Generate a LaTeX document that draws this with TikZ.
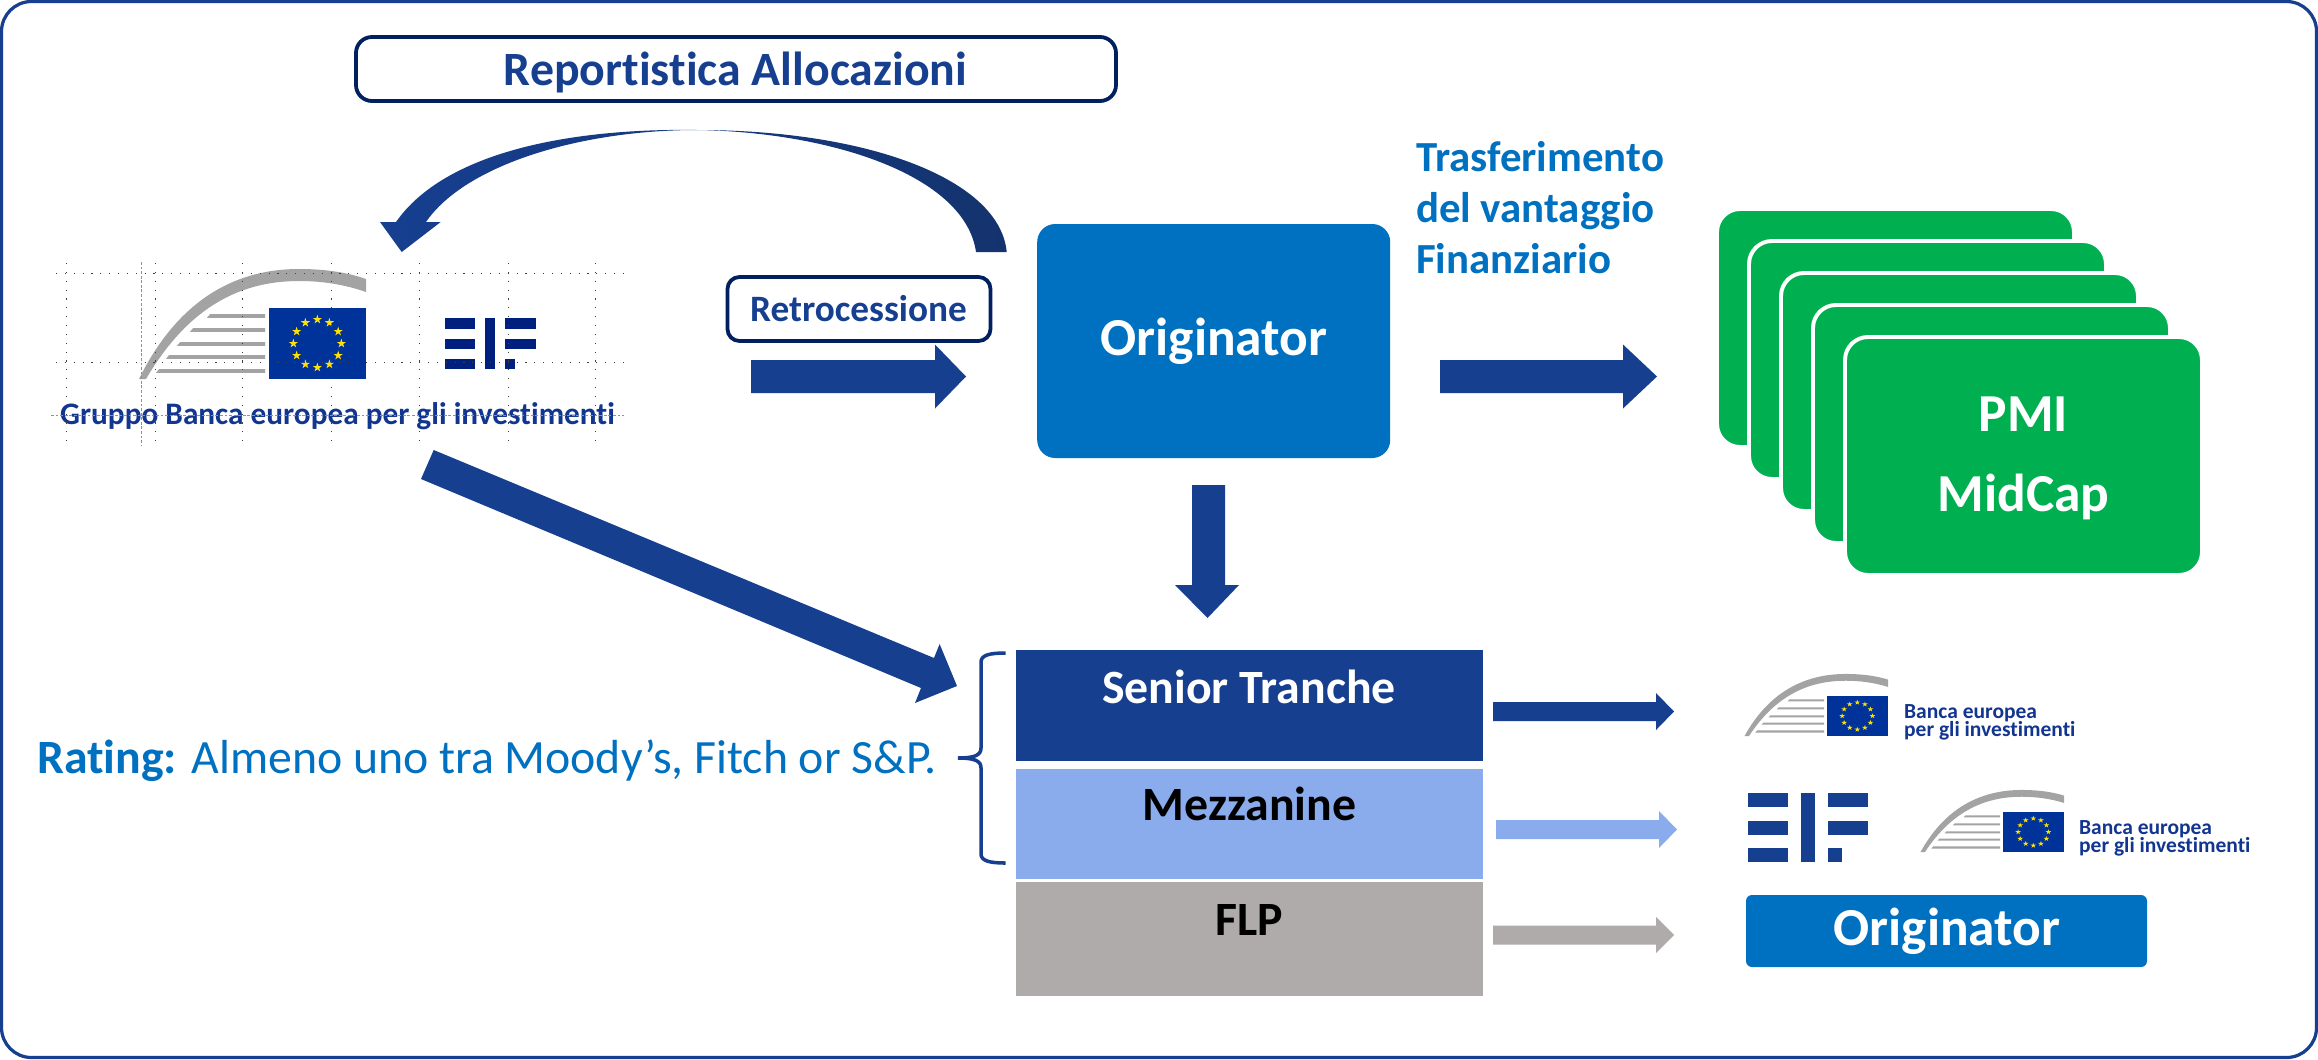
\documentclass[tikz,border=0pt]{standalone}
\usepackage{fontspec}
\setmainfont{Carlito}[Ligatures=CommonOff]
\definecolor{bluemain}{HTML}{163F90}
\definecolor{bluedark}{HTML}{14336E}
\definecolor{navy}{HTML}{002060}
\definecolor{origblue}{HTML}{0070C0}
\definecolor{cardgreen}{HTML}{00B050}
\definecolor{mezzblue}{HTML}{8BACEC}
\definecolor{flpgray}{HTML}{AEABAA}
\definecolor{flagblue}{HTML}{003399}
\definecolor{stargold}{HTML}{FFE000}
\definecolor{swoosh}{HTML}{A3A3A3}
\definecolor{eifnavy}{HTML}{002080}
\definecolor{eiftext}{HTML}{12358F}
\definecolor{guide}{HTML}{FF6A3C}
\def\u{0.05cm}
\newcommand{\fs}[1]{\fontsize{#1}{#1}\selectfont}
\newcommand{\eustar}[3]{%
  \pgfmathsetmacro{\rin}{0.382*#3}%
  \fill[stargold,shift={(#1,#2)}] (-90:#3) -- (-54:\rin) -- (-18:#3) -- (18:\rin) -- (54:#3) -- (90:\rin) -- (126:#3) -- (162:\rin) -- (198:#3) -- (234:\rin) -- cycle;}
% EIB emblem: origin at the lower right corner of the flag
\newcommand{\eiblogo}[4]{%
  \begin{scope}[shift={(#1,#2)},xscale=#3,yscale=#4]
    \fill[swoosh] (-227,0) .. controls (-190,-75) and (-135,-110) .. (-67,-110)
      .. controls (-42,-110) and (-20,-107) .. (0,-100) -- (0,-87)
      .. controls (-20,-94) and (-42,-98) .. (-67,-98)
      .. controls (-130,-98) and (-180,-68) .. (-220,0) -- cycle;
    \foreach \lx/\ly in {-156/-63,-173/-49,-186/-35,-197/-22,-207/-8}
      \fill[swoosh] (\lx,\ly-1.8) -- (-101,\ly-1.8) -- (-101,\ly+1.8) -- (\lx-3,\ly+1.8) -- cycle;
    \fill[flagblue] (-97,-71) rectangle (0,0);
    \foreach \a in {0,30,...,330}{
      \pgfmathsetmacro{\sx}{-48.6+24*cos(\a)}
      \pgfmathsetmacro{\sy}{-35.5+24*sin(\a)}
      \eustar{\sx}{\sy}{4.8}
    }
  \end{scope}}
% block arrow pointing right
\newcommand{\rarrow}[7]{% colour, x0, xneck, xtip, yc, half shaft, half head
  \fill[#1] (#2,#5-#6) -- (#3,#5-#6) -- (#3,#5-#7) -- (#4,#5) -- (#3,#5+#7) -- (#3,#5+#6) -- (#2,#5+#6) -- cycle;}
\tikzset{
  frame/.style={draw=bluemain,line width=4.6pt,rounded corners=1.5cm},
  outlinebox/.style={draw=navy,line width=5.4pt,fill=white,rounded corners=#1},
  origbox/.style={fill=origblue,rounded corners=#1,inner sep=0pt},
  cardbox/.style={fill=cardgreen,draw=white,line width=5.6pt,rounded corners=1.15cm,
     minimum width=357*\u,minimum height=238*\u,inner sep=0pt},
  tranche/.style={inner sep=0pt,minimum width=467*\u},
  lbl/.style={inner sep=0pt,anchor=base},
  lblw/.style={inner sep=0pt,anchor=base west},
  dots/.style={draw=black!75,line width=1.3pt,dash pattern=on 1.6pt off 11pt},
  redline/.style={draw=guide,line width=0.9pt,dash pattern=on 4pt off 2.5pt},
}
\begin{document}
\begin{tikzpicture}[x=\u,y=-\u]
\useasboundingbox (0,0) rectangle (2318,1059);
\fill[white] (0,0) rectangle (2318,1059);
\draw[frame] (1.5,1.5) rectangle (2316.5,1057.5);

% top labelled box
\node[outlinebox=0.8cm,minimum width=760*\u,minimum height=64*\u,inner sep=0pt] (report) at (736,69) {};
\node[lbl,text=bluemain] (reporttext) at (735.5,85) {\fs{68}\textbf{Reportistica Allocazioni}};

% curved arrow
\shade[left color=bluemain,middle color=bluemain,right color=bluedark]
  (1006.7,252) .. controls (1000,180) and (870,130) .. (697,130)
  .. controls (570,128) and (445,152) .. (396,222) -- (380,222) -- (401.7,252) -- (440.7,222) -- (426,222)
  .. controls (465,165) and (580,130) .. (697,130)
  .. controls (830,132) and (965,175) .. (976,252) -- cycle;

% Retrocessione
\node[outlinebox=0.6cm,minimum width=263*\u,minimum height=64*\u,inner sep=0pt] (retro) at (859,309) {};
\node[lbl,text=bluemain] (retrotext) at (858.5,321) {\fs{53}\textbf{Retrocessione}};
\rarrow{bluemain}{751}{935}{966}{376.5}{16.5}{32}

% Originator
\node[origbox=0.9cm,minimum width=353*\u,minimum height=234*\u] (orig) at (1213.7,341) {};
\node[lbl,text=white] (origtext) at (1214,355) {\fs{76}\textbf{Originator}};

% Trasferimento
\node[lblw,text=origblue] (tr1) at (1416,171) {\fs{61}\textbf{Trasferimento}};
\node[lblw,text=origblue] (tr2) at (1416,222) {\fs{61}\textbf{del vantaggio}};
\node[lblw,text=origblue] (tr3) at (1416,273) {\fs{61}\textbf{Finanziario}};
\rarrow{bluemain}{1440}{1623}{1657}{376.5}{16.5}{32}

% cards
\node[cardbox] (card1) at (1895.5,328) {};
\node[cardbox] (card2) at (1927.5,360) {};
\node[cardbox] (card3) at (1959.5,392) {};
\node[cardbox] (card4) at (1991.5,424) {};
\node[cardbox] (card5) at (2023.5,456) {};
\node[lbl,text=white] (pmi) at (2023.5,431) {\fs{76}\textbf{PMI}};
\node[lbl,text=white] (midcap) at (2023.5,511) {\fs{76}\textbf{MidCap}};

% down arrow
\fill[bluemain] (1192,485) -- (1225,485) -- (1225,585) -- (1239,585) -- (1207.5,618) -- (1175,585) -- (1192,585) -- cycle;

% diagonal arrow
\fill[bluemain] (433.7,450) -- (934,658) -- (939.6,644) -- (957,686) -- (915,703) -- (921,688) -- (421,479) -- cycle;

% tranches
\node[tranche,fill=bluemain,minimum height=111*\u] (senior) at (1249.5,705.5) {};
\node[tranche,fill=mezzblue,minimum height=110*\u] (mezz) at (1249.5,824) {};
\node[tranche,fill=flpgray,minimum height=114*\u] (flp) at (1249.5,939) {};
\node[lbl,text=white] (seniortext) at (1249,703) {\fs{68}\textbf{Senior Tranche}};
\node[lbl,text=black] (mezztext) at (1249.5,820) {\fs{68}\textbf{Mezzanine}};
\node[lbl,text=black] (flptext) at (1249.5,935) {\fs{68}\textbf{FLP}};

\rarrow{bluemain}{1493}{1656}{1674}{711.5}{9.5}{18.5}
\rarrow{mezzblue}{1496}{1659}{1677}{829.5}{9.5}{18.5}
\rarrow{flpgray}{1493}{1656}{1674}{935}{9.5}{18}

% brace
\draw[bluemain,line width=5pt] (1005.5,653) .. controls (990,653) and (981,655) .. (981,662)
  -- (981,748) .. controls (981,755) and (975,758) .. (958,758)
  .. controls (975,758) and (981,761) .. (981,768) -- (981,854)
  .. controls (981,861) and (990,863) .. (1005.5,863);

% rating
\node[lblw,text=origblue] (rating) at (37,773) {\fs{68}\textbf{Rating:} Almeno uno tra Moody’s, Fitch or S\&P.};

% logos
\eiblogo{366}{379}{1}{1}
\foreach \xa/\xb/\ya/\yb in {444.5/475/318/329,444.5/475/339/349,444.5/475/359/369,484.5/495/318/369,505/535.5/318/329,505/535.5/339/349,505/515/359/369}
  \fill[eifnavy] (\xa,\ya) rectangle (\xb,\yb);
\node[lblw,text=eiftext] (gruppo) at (60,424) {\fs{44.5}\textbf{Gruppo Banca europea per gli investimenti}};

\eiblogo{1888}{736}{0.632}{0.564}
\node[lblw,text=eiftext] (bei1a) at (1904,718) {\fs{30.6}\textbf{Banca europea}};
\node[lblw,text=eiftext] (bei1b) at (1904,736) {\fs{30.6}\textbf{per gli investimenti}};

\foreach \xa/\xb/\ya/\yb in {1748/1787.5/793/807,1748/1787.5/821/835,1748/1787.5/848/862,1801/1815/793/862,1828/1868/793/807,1828/1868/821/835,1828/1842/848/862}
  \fill[bluemain] (\xa,\ya) rectangle (\xb,\yb);

\eiblogo{2064}{852}{0.632}{0.564}
\node[lblw,text=eiftext] (bei2a) at (2079,834) {\fs{30.6}\textbf{Banca europea}};
\node[lblw,text=eiftext] (bei2b) at (2079,852) {\fs{30.6}\textbf{per gli investimenti}};

\node[origbox=0.3cm,minimum width=401*\u,minimum height=72*\u] (orig2) at (1946.5,931) {};
\node[lbl,text=white] (orig2text) at (1947,945) {\fs{76}\textbf{Originator}};

% guide lines of the pasted logo
\draw[dots] (56,273) -- (624,273);
\draw[dots] (56,362) -- (624,362);
\foreach \gx in {66,155,242,331,419,508,595}
  \draw[dots] (\gx,263) -- (\gx,443);
\draw[redline] (141,262) -- (141,446);
\draw[redline] (51,415) -- (624,415);
\end{tikzpicture}
\end{document}
